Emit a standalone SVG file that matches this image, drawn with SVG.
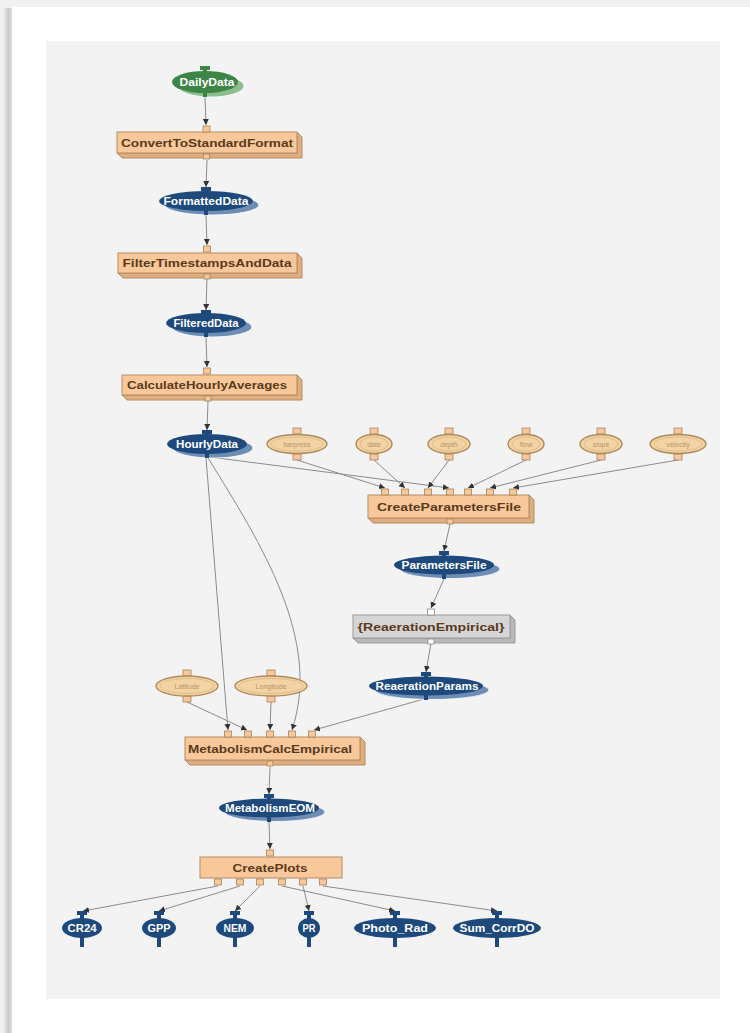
<svg xmlns="http://www.w3.org/2000/svg" width="750" height="1033" viewBox="0 0 750 1033">
  <defs>
    <style>
      .edge { fill: none; stroke: #8c8c8c; stroke-width: 1; }
      .face { fill: #f8c89a; stroke: #b58d63; stroke-width: 1; }
      .side { fill: #dfae80; stroke: #b58d63; stroke-width: 1; }
      .gface { fill: #d6d6d6; stroke: #9a9a9a; stroke-width: 1; }
      .gside { fill: #b9b9b9; stroke: #9a9a9a; stroke-width: 1; }
      .port { fill: #f8c89a; stroke: #a8835a; stroke-width: 0.8; }
      .bt { font-family: "Liberation Sans", Arial, sans-serif; font-weight: bold; font-size: 11px; fill: #5a3a1c; text-anchor: middle; }
      .dt { font-family: "Liberation Sans", Arial, sans-serif; font-weight: bold; font-size: 10px; fill: #ffffff; text-anchor: middle; }
      .pt { font-family: "Liberation Sans", Arial, sans-serif; font-size: 7px; fill: #b89468; text-anchor: middle; }
      .navy { fill: #1d497c; }
      .navyS { fill: #6d8db4; stroke: #ffffff; stroke-width: 0.8; }
      .green { fill: #3d8447; }
      .greenS { fill: #8cbd8f; stroke: #ffffff; stroke-width: 0.8; }
      .tan { fill: #f2d3a3; stroke: #b08a5a; stroke-width: 1.4; }
      .tanIn { fill: none; stroke: #dcb887; stroke-width: 0.8; }
    </style>
    <marker id="arr" markerUnits="userSpaceOnUse" markerWidth="7" markerHeight="7" refX="6" refY="3" orient="auto">
      <path d="M0,0 L6,3 L0,6 Z" fill="#333333"/>
    </marker>
    <linearGradient id="cardShadow" x1="0" y1="0" x2="1" y2="0">
      <stop offset="0" stop-color="#f0f0f0"/>
      <stop offset="0.6" stop-color="#c9c9c9"/>
      <stop offset="1" stop-color="#e0e0e0"/>
    </linearGradient>
  </defs>

  <!-- page and card -->
  <rect x="0" y="0" width="750" height="1033" fill="#f1f1f1"/>
  <rect x="3" y="8" width="9" height="1025" fill="url(#cardShadow)"/>
  <rect x="12" y="7" width="738" height="1026" fill="#ffffff"/>
  <rect x="46" y="41" width="674" height="958" fill="#f3f3f3"/>

  <!-- connectors -->
  <g id="connectors" marker-end="url(#arr)">
    <path class="edge" d="M205 97 L206 125"/>
    <path class="edge" d="M207 160 L206 187"/>
    <path class="edge" d="M206 215 L207 245"/>
    <path class="edge" d="M207 279 L206 310"/>
    <path class="edge" d="M206 337 L207 367"/>
    <path class="edge" d="M208 401 L207 430"/>
    <path class="edge" d="M206 458 L228 730"/>
    <path class="edge" d="M208 458 C 262 545, 322 640, 292 730"/>
    <path class="edge" d="M210 457 L449 488"/>
    <path class="edge" d="M297 460 L385 488"/>
    <path class="edge" d="M374 460 L405 488"/>
    <path class="edge" d="M449 460 L428 488"/>
    <path class="edge" d="M526 460 L468 488"/>
    <path class="edge" d="M601 460 L490 488"/>
    <path class="edge" d="M678 460 L513 488"/>
    <path class="edge" d="M450 524 L444 551"/>
    <path class="edge" d="M444 579 L431 608"/>
    <path class="edge" d="M431 643 L426 672"/>
    <path class="edge" d="M424 699 L314 730"/>
    <path class="edge" d="M187 702 L247 730"/>
    <path class="edge" d="M271 702 L270 730"/>
    <path class="edge" d="M270 767 L269 794"/>
    <path class="edge" d="M269 822 L270 849"/>
    <path class="edge" d="M218 886 L83 911"/>
    <path class="edge" d="M240 886 L159 911"/>
    <path class="edge" d="M260 886 L235 911"/>
    <path class="edge" d="M303 886 L309 911"/>
    <path class="edge" d="M282 886 L395 911"/>
    <path class="edge" d="M323 886 L497 911"/>
  </g>

  <!-- DailyData -->
  <g id="DailyData">
    <ellipse class="greenS" cx="211" cy="86" rx="33" ry="11"/>
    <ellipse class="green" cx="205" cy="82" rx="33" ry="11"/>
    <rect class="green" x="203" y="66" width="4" height="31"/>
    <rect class="green" x="200" y="66" width="10" height="4"/>
    <text class="dt" x="207" y="85.5" textLength="55" lengthAdjust="spacingAndGlyphs">DailyData</text>
  </g>

  <!-- ConvertToStandardFormat -->
  <g id="ConvertToStandardFormat">
    <polygon class="side" points="117,153 122,158 302,158 302,137 297,132 297,153"/>
    <rect class="face" x="117" y="132" width="180" height="21"/>
    <rect class="port" x="203" y="126" width="7" height="6"/>
    <rect class="port" x="203.5" y="154" width="6" height="5"/>
    <text class="bt" x="207" y="146.5" textLength="172" lengthAdjust="spacingAndGlyphs">ConvertToStandardFormat</text>
  </g>

  <!-- FormattedData -->
  <g id="FormattedData">
    <ellipse class="navyS" cx="212" cy="205" rx="47" ry="10"/>
    <ellipse class="navy" cx="206" cy="201" rx="47" ry="10"/>
    <rect class="navy" x="204" y="187" width="4" height="28"/>
    <rect class="navy" x="201" y="187" width="10" height="4"/>
    <text class="dt" x="206" y="204.5" textLength="85" lengthAdjust="spacingAndGlyphs">FormattedData</text>
  </g>

  <!-- FilterTimestampsAndData -->
  <g id="FilterTimestampsAndData">
    <polygon class="side" points="118,273 123,278 302,278 302,258 297,253 297,273"/>
    <rect class="face" x="118" y="253" width="179" height="20"/>
    <rect class="port" x="203.5" y="246" width="7" height="6"/>
    <rect class="port" x="204" y="274" width="6" height="5"/>
    <text class="bt" x="207" y="267" textLength="169" lengthAdjust="spacingAndGlyphs">FilterTimestampsAndData</text>
  </g>

  <!-- FilteredData -->
  <g id="FilteredData">
    <ellipse class="navyS" cx="212" cy="327" rx="40" ry="10"/>
    <ellipse class="navy" cx="206" cy="323" rx="40" ry="10"/>
    <rect class="navy" x="204" y="310" width="4" height="27"/>
    <rect class="navy" x="201" y="310" width="10" height="4"/>
    <text class="dt" x="206" y="326.5" textLength="65" lengthAdjust="spacingAndGlyphs">FilteredData</text>
  </g>

  <!-- CalculateHourlyAverages -->
  <g id="CalculateHourlyAverages">
    <polygon class="side" points="122,395 127,400 302,400 302,380 297,375 297,395"/>
    <rect class="face" x="122" y="375" width="175" height="20"/>
    <rect class="port" x="203.5" y="368" width="7" height="6"/>
    <rect class="port" x="205" y="396" width="6" height="5"/>
    <text class="bt" x="207" y="389" textLength="160" lengthAdjust="spacingAndGlyphs">CalculateHourlyAverages</text>
  </g>

  <!-- HourlyData -->
  <g id="HourlyData">
    <ellipse class="navyS" cx="213" cy="448" rx="40" ry="10"/>
    <ellipse class="navy" cx="207" cy="444" rx="40" ry="10"/>
    <rect class="navy" x="205" y="430" width="4" height="28"/>
    <rect class="navy" x="202" y="430" width="10" height="4"/>
    <text class="dt" x="207" y="447.5" textLength="62" lengthAdjust="spacingAndGlyphs">HourlyData</text>
  </g>

  <!-- parameter inputs -->
  <g id="barpress">
    <rect class="port" x="293" y="428" width="8" height="6"/>
    <rect class="port" x="293" y="454" width="8" height="6"/>
    <ellipse class="tan" cx="297" cy="444" rx="30" ry="9.5"/>
    <ellipse class="tanIn" cx="297" cy="444" rx="26" ry="7"/>
    <text class="pt" x="297" y="446.5">barpress</text>
  </g>
  <g id="date">
    <rect class="port" x="370" y="428" width="8" height="6"/>
    <rect class="port" x="370" y="454" width="8" height="6"/>
    <ellipse class="tan" cx="374" cy="444" rx="18" ry="9.5"/>
    <ellipse class="tanIn" cx="374" cy="444" rx="14" ry="7"/>
    <text class="pt" x="374" y="446.5">date</text>
  </g>
  <g id="depth">
    <rect class="port" x="445" y="428" width="8" height="6"/>
    <rect class="port" x="445" y="454" width="8" height="6"/>
    <ellipse class="tan" cx="449" cy="444" rx="21" ry="9.5"/>
    <ellipse class="tanIn" cx="449" cy="444" rx="17" ry="7"/>
    <text class="pt" x="449" y="446.5">depth</text>
  </g>
  <g id="flow">
    <rect class="port" x="522" y="428" width="8" height="6"/>
    <rect class="port" x="522" y="454" width="8" height="6"/>
    <ellipse class="tan" cx="526" cy="444" rx="18" ry="9.5"/>
    <ellipse class="tanIn" cx="526" cy="444" rx="14" ry="7"/>
    <text class="pt" x="526" y="446.5">flow</text>
  </g>
  <g id="slope">
    <rect class="port" x="597" y="428" width="8" height="6"/>
    <rect class="port" x="597" y="454" width="8" height="6"/>
    <ellipse class="tan" cx="601" cy="444" rx="21" ry="9.5"/>
    <ellipse class="tanIn" cx="601" cy="444" rx="17" ry="7"/>
    <text class="pt" x="601" y="446.5">slope</text>
  </g>
  <g id="velocity">
    <rect class="port" x="674" y="428" width="8" height="6"/>
    <rect class="port" x="674" y="454" width="8" height="6"/>
    <ellipse class="tan" cx="678" cy="444" rx="28" ry="9.5"/>
    <ellipse class="tanIn" cx="678" cy="444" rx="24" ry="7"/>
    <text class="pt" x="678" y="446.5">velocity</text>
  </g>

  <!-- CreateParametersFile -->
  <g id="CreateParametersFile">
    <polygon class="side" points="368,518 373,523 534,523 534,500 529,495 529,518"/>
    <rect class="face" x="368" y="495" width="161" height="23"/>
    <rect class="port" x="381.5" y="489" width="7" height="6"/>
    <rect class="port" x="401.5" y="489" width="7" height="6"/>
    <rect class="port" x="424.5" y="489" width="7" height="6"/>
    <rect class="port" x="446.5" y="489" width="7" height="6"/>
    <rect class="port" x="464.5" y="489" width="7" height="6"/>
    <rect class="port" x="486.5" y="489" width="7" height="6"/>
    <rect class="port" x="509.5" y="489" width="7" height="6"/>
    <rect class="port" x="447" y="519" width="6" height="5"/>
    <text class="bt" x="449" y="510.5" textLength="144" lengthAdjust="spacingAndGlyphs">CreateParametersFile</text>
  </g>

  <!-- ParametersFile -->
  <g id="ParametersFile">
    <ellipse class="navyS" cx="450" cy="569" rx="50" ry="9.5"/>
    <ellipse class="navy" cx="444" cy="565" rx="50" ry="9.5"/>
    <rect class="navy" x="442" y="551" width="4" height="28"/>
    <rect class="navy" x="439" y="551" width="10" height="4"/>
    <text class="dt" x="444" y="568.5" textLength="85" lengthAdjust="spacingAndGlyphs">ParametersFile</text>
  </g>

  <!-- {ReaerationEmpirical} -->
  <g id="ReaerationEmpirical">
    <polygon class="gside" points="353,638 358,643 515,643 515,620 510,615 510,638"/>
    <rect class="gface" x="353" y="615" width="157" height="23"/>
    <rect x="427.5" y="609" width="7" height="6" fill="#ffffff" stroke="#8a8a8a" stroke-width="0.8"/>
    <rect x="428" y="639" width="6" height="5" fill="#ffffff" stroke="#8a8a8a" stroke-width="0.8"/>
    <text class="bt" x="431" y="630.5" textLength="147" lengthAdjust="spacingAndGlyphs">{ReaerationEmpirical}</text>
  </g>

  <!-- ReaerationParams -->
  <g id="ReaerationParams">
    <ellipse class="navyS" cx="432" cy="690" rx="57" ry="9.5"/>
    <ellipse class="navy" cx="426" cy="686" rx="57" ry="9.5"/>
    <rect class="navy" x="424" y="672" width="4" height="28"/>
    <rect class="navy" x="421" y="672" width="10" height="4"/>
    <text class="dt" x="427" y="689.5" textLength="103" lengthAdjust="spacingAndGlyphs">ReaerationParams</text>
  </g>

  <!-- Latitude / Longitude -->
  <g id="Latitude">
    <rect class="port" x="183" y="670" width="8" height="6"/>
    <rect class="port" x="183" y="696" width="8" height="6"/>
    <ellipse class="tan" cx="187" cy="686" rx="31" ry="10"/>
    <ellipse class="tanIn" cx="187" cy="686" rx="27" ry="7.5"/>
    <text class="pt" x="187" y="688.5">Latitude</text>
  </g>
  <g id="Longitude">
    <rect class="port" x="267" y="670" width="8" height="6"/>
    <rect class="port" x="267" y="696" width="8" height="6"/>
    <ellipse class="tan" cx="271" cy="686" rx="36" ry="10"/>
    <ellipse class="tanIn" cx="271" cy="686" rx="32" ry="7.5"/>
    <text class="pt" x="271" y="688.5">Longitude</text>
  </g>

  <!-- MetabolismCalcEmpirical -->
  <g id="MetabolismCalcEmpirical">
    <polygon class="side" points="185,760 190,765 365,765 365,742 360,737 360,760"/>
    <rect class="face" x="185" y="737" width="175" height="23"/>
    <rect class="port" x="224.5" y="731" width="7" height="6"/>
    <rect class="port" x="244.5" y="731" width="7" height="6"/>
    <rect class="port" x="266.5" y="731" width="7" height="6"/>
    <rect class="port" x="288.5" y="731" width="7" height="6"/>
    <rect class="port" x="308.5" y="731" width="7" height="6"/>
    <rect class="port" x="267" y="761" width="6" height="5"/>
    <text class="bt" x="270" y="752.5" textLength="164" lengthAdjust="spacingAndGlyphs">MetabolismCalcEmpirical</text>
  </g>

  <!-- MetabolismEOM -->
  <g id="MetabolismEOM">
    <ellipse class="navyS" cx="275" cy="812" rx="50" ry="9.5"/>
    <ellipse class="navy" cx="269" cy="808" rx="50" ry="9.5"/>
    <rect class="navy" x="267" y="794" width="4" height="28"/>
    <rect class="navy" x="264" y="794" width="10" height="4"/>
    <text class="dt" x="270" y="811.5" textLength="90" lengthAdjust="spacingAndGlyphs">MetabolismEOM</text>
  </g>

  <!-- CreatePlots -->
  <g id="CreatePlots">
    <rect class="face" x="200" y="857" width="142" height="21"/>
    <rect class="port" x="266.5" y="850" width="7" height="6"/>
    <rect class="port" x="214.5" y="879" width="7" height="6"/>
    <rect class="port" x="236.5" y="879" width="7" height="6"/>
    <rect class="port" x="256.5" y="879" width="7" height="6"/>
    <rect class="port" x="278.5" y="879" width="7" height="6"/>
    <rect class="port" x="299.5" y="879" width="7" height="6"/>
    <rect class="port" x="319.5" y="879" width="7" height="6"/>
    <text class="bt" x="270" y="871.5" textLength="75" lengthAdjust="spacingAndGlyphs">CreatePlots</text>
  </g>

  <!-- plot outputs -->
  <g id="CR24">
    <ellipse class="navy" cx="82" cy="928" rx="20" ry="10"/>
    <rect class="navy" x="80" y="911" width="4" height="36"/>
    <rect class="navy" x="77" y="911" width="10" height="4"/>
    <text class="dt" x="82" y="931.5" textLength="29" lengthAdjust="spacingAndGlyphs">CR24</text>
  </g>
  <g id="GPP">
    <ellipse class="navy" cx="159" cy="928" rx="17" ry="10"/>
    <rect class="navy" x="157" y="911" width="4" height="36"/>
    <rect class="navy" x="154" y="911" width="10" height="4"/>
    <text class="dt" x="159" y="931.5" textLength="23" lengthAdjust="spacingAndGlyphs">GPP</text>
  </g>
  <g id="NEM">
    <ellipse class="navy" cx="235" cy="928" rx="19" ry="10"/>
    <rect class="navy" x="233" y="911" width="4" height="36"/>
    <rect class="navy" x="230" y="911" width="10" height="4"/>
    <text class="dt" x="235" y="931.5" textLength="23" lengthAdjust="spacingAndGlyphs">NEM</text>
  </g>
  <g id="PR">
    <ellipse class="navy" cx="309" cy="928" rx="11" ry="10"/>
    <rect class="navy" x="307" y="911" width="4" height="36"/>
    <rect class="navy" x="304" y="911" width="10" height="4"/>
    <text class="dt" x="309" y="931.5" textLength="13" lengthAdjust="spacingAndGlyphs">PR</text>
  </g>
  <g id="Photo_Rad">
    <ellipse class="navy" cx="395" cy="928" rx="41" ry="10"/>
    <rect class="navy" x="393" y="911" width="4" height="36"/>
    <rect class="navy" x="390" y="911" width="10" height="4"/>
    <text class="dt" x="395" y="931.5" textLength="66" lengthAdjust="spacingAndGlyphs">Photo_Rad</text>
  </g>
  <g id="Sum_CorrDO">
    <ellipse class="navy" cx="497" cy="928" rx="44" ry="10"/>
    <rect class="navy" x="495" y="911" width="4" height="36"/>
    <rect class="navy" x="492" y="911" width="10" height="4"/>
    <text class="dt" x="497" y="931.5" textLength="75" lengthAdjust="spacingAndGlyphs">Sum_CorrDO</text>
  </g>
</svg>
